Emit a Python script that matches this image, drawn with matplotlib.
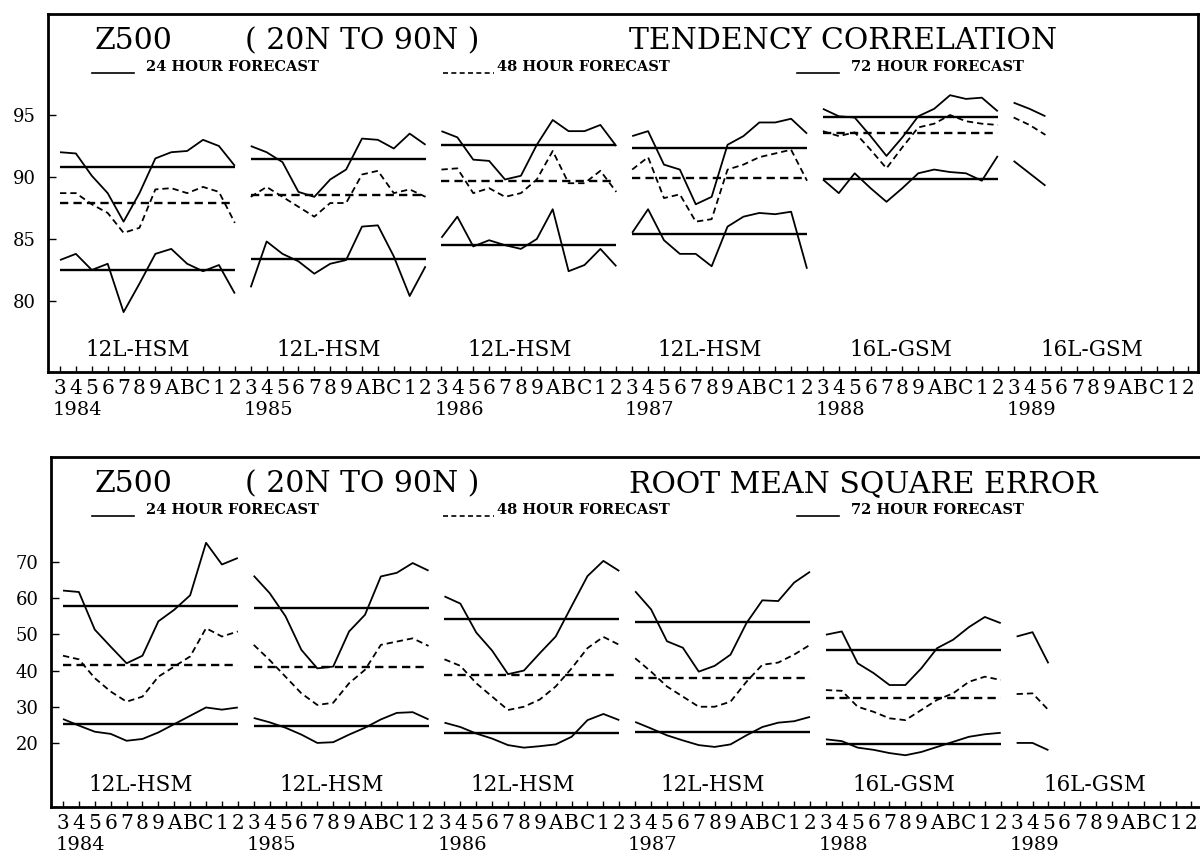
import matplotlib.pyplot as plt
from matplotlib.transforms import offset_copy

plt.rcParams['font.family'] = ['DejaVu Serif', 'DejaVu Sans']

# months from Mar 1984 to Feb 1990, written the old plotter way (A,B,C = Oct,Nov,Dec)
month_nums = list(range(3, 13)) + list(range(1, 13)) * 5 + [1, 2]
month_chars = '123456789ABC'
month_labels = [month_chars[m - 1] for m in month_nums]
years = ['1984', '1985', '1986', '1987', '1988', '1989']
models = ['12L-HSM', '12L-HSM', '12L-HSM', '12L-HSM', '16L-GSM', '16L-GSM']
leads = ['24 HOUR FORECAST', '48 HOUR FORECAST', '72 HOUR FORECAST']

# tendency correlation, Mar 1984 .. May 1989 (12 months per model year)
tc24 = [92.0, 91.9, 90.1, 88.7, 86.4, 88.7, 91.5, 92.0, 92.1, 93.0, 92.5, 90.9,
        92.5, 92.0, 91.2, 88.8, 88.4, 89.8, 90.6, 93.1, 93.0, 92.3, 93.5, 92.6,
        93.7, 93.2, 91.4, 91.3, 89.8, 90.1, 92.6, 94.6, 93.7, 93.7, 94.2, 92.5,
        93.3, 93.7, 91.0, 90.6, 87.8, 88.4, 92.6, 93.3, 94.4, 94.4, 94.7, 93.5,
        95.5, 94.9, 94.8, 93.3, 91.7, 93.2, 94.9, 95.5, 96.6, 96.3, 96.4, 95.3,
        96.0, 95.5, 94.9]
tc48 = [88.7, 88.7, 87.8, 87.1, 85.5, 85.9, 89.0, 89.1, 88.7, 89.2, 88.8, 86.3,
        88.4, 89.2, 88.4, 87.6, 86.8, 87.9, 87.9, 90.2, 90.5, 88.7, 89.0, 88.4,
        90.6, 90.7, 88.7, 89.1, 88.4, 88.7, 89.8, 92.1, 89.5, 89.5, 90.5, 88.8,
        90.6, 91.6, 88.3, 88.6, 86.4, 86.6, 90.6, 91.0, 91.6, 91.9, 92.2, 89.7,
        93.7, 93.3, 93.6, 92.2, 90.7, 92.4, 94.0, 94.3, 95.0, 94.5, 94.3, 94.2,
        94.8, 94.2, 93.4]
tc72 = [83.3, 83.8, 82.5, 83.0, 79.1, 81.4, 83.8, 84.2, 83.0, 82.4, 82.9, 80.6,
        81.1, 84.8, 83.8, 83.2, 82.2, 83.0, 83.3, 86.0, 86.1, 83.6, 80.4, 82.8,
        85.1, 86.8, 84.4, 84.9, 84.5, 84.2, 85.0, 87.4, 82.4, 82.9, 84.2, 82.8,
        85.5, 87.4, 84.9, 83.8, 83.8, 82.8, 86.0, 86.8, 87.1, 87.0, 87.2, 82.6,
        89.8, 88.7, 90.3, 89.1, 88.0, 89.1, 90.3, 90.6, 90.4, 90.3, 89.7, 91.7,
        91.3, 90.3, 89.3]

# root mean square error
rm24 = [26.6, 24.8, 23.1, 22.5, 20.6, 21.1, 22.9, 25.2, 27.5, 29.8, 29.2, 29.8,
        26.9, 25.7, 24.2, 22.3, 20.0, 20.2, 22.3, 24.2, 26.5, 28.3, 28.5, 26.5,
        25.6, 24.4, 22.6, 21.2, 19.4, 18.7, 19.1, 19.6, 21.7, 26.3, 28.0, 26.3,
        25.8, 24.0, 22.1, 20.7, 19.4, 18.9, 19.6, 22.1, 24.4, 25.6, 26.0, 27.2,
        21.0, 20.5, 18.7, 18.1, 17.2, 16.6, 17.5, 18.9, 20.3, 21.7, 22.4, 22.8,
        20.0, 20.0, 18.0]
rm48 = [44.1, 43.1, 37.9, 34.2, 31.4, 32.8, 38.3, 41.1, 43.9, 51.7, 49.4, 50.8,
        47.1, 42.9, 38.3, 33.7, 30.5, 31.1, 36.5, 40.2, 47.1, 48.0, 48.9, 46.8,
        43.1, 41.3, 36.5, 32.8, 29.1, 30.0, 32.0, 35.6, 40.6, 46.2, 49.3, 47.1,
        43.4, 39.7, 35.6, 32.8, 30.0, 30.0, 31.4, 36.9, 41.6, 42.2, 44.4, 47.1,
        34.6, 34.4, 30.0, 28.6, 26.8, 26.3, 29.1, 31.9, 33.7, 36.9, 38.3, 37.4,
        33.5, 33.7, 29.1]
rm72 = [62.1, 61.7, 51.3, 46.6, 42.0, 44.1, 53.6, 56.8, 60.8, 75.3, 69.3, 71.1,
        66.2, 61.4, 55.0, 45.7, 40.6, 41.1, 50.8, 55.4, 66.0, 67.0, 69.7, 67.6,
        60.5, 58.5, 50.5, 45.5, 39.0, 40.0, 44.8, 49.4, 57.8, 66.1, 70.3, 67.5,
        61.9, 56.9, 48.1, 46.3, 39.7, 41.3, 44.4, 53.1, 59.4, 59.2, 64.3, 67.3,
        49.9, 50.8, 42.0, 39.3, 36.0, 36.0, 40.6, 46.2, 48.5, 52.0, 54.8, 53.1,
        49.4, 50.6, 42.0]

W, H = 1200, 857
fig = plt.figure(figsize=(12, 8.57), dpi=100)


def fx(px):
    return px / W


def fy(py):
    return 1 - py / H


def panel(rect, top, series, title, yticks, ylim):
    ax = fig.add_axes(rect)
    for s, ls in zip(series, ['-', '--', '-']):
        for k in range(0, len(s), 12):
            seg = s[k:k + 12]
            xs = list(range(k, k + len(seg)))
            kw = dict(color='black', lw=1.3, solid_capstyle='butt')
            if ls == '--':
                kw['dashes'] = (3.5, 2.2)
            ax.plot(xs, seg, **kw)
            # yearly mean for the full model years
            if len(seg) == 12:
                m = sum(seg) / 12
                ax.plot([xs[0], xs[-1]], [m, m], **dict(kw, lw=1.7))

    ax.set_xlim(-0.755, 71.6)
    ax.set_ylim(*ylim)
    ax.set_xticks(range(len(month_labels)))
    ax.set_xticklabels(month_labels, fontsize=14.5)
    ax.set_yticks(yticks)
    ax.set_yticklabels([str(v) for v in yticks], fontsize=13)
    ax.tick_params(axis='x', direction='in', length=4, width=1, pad=5)
    ax.tick_params(axis='y', direction='in', length=6, width=1, pad=9)
    for sp in ax.spines.values():
        sp.set_linewidth(2)

    tr_up = offset_copy(ax.get_xaxis_transform(), fig=fig, y=22, units='dots')
    tr_dn = offset_copy(ax.get_xaxis_transform(), fig=fig, y=-38, units='dots')
    for k, (yr, mdl) in enumerate(zip(years, models)):
        ax.text(12 * k + 4.9, 0, mdl, transform=tr_up, ha='center',
                va='center', fontsize=15.5)
        ax.text(12 * k - 0.45, 0, yr, transform=tr_dn, ha='left',
                va='center', fontsize=14)

    # header inside the frame
    fig.text(fx(95), fy(top + 41), 'Z500', fontsize=21.5, va='center')
    fig.text(fx(245), fy(top + 41), '( 20N TO 90N )', fontsize=21.5, va='center')
    fig.text(fx(629), fy(top + 41), title, fontsize=21.5, va='center')
    for (x0, x1, xt), lab, dash in zip([(92, 134, 146), (443, 494, 497), (797, 839, 851)],
                                       leads, [False, True, False]):
        ln = plt.Line2D([fx(x0), fx(x1)], [fy(top + 73), fy(top + 73)],
                        transform=fig.transFigure, color='black', lw=1.2)
        if dash:
            ln.set_dashes((3, 2))
        fig.add_artist(ln)
        fig.text(fx(xt), fy(top + 67), lab, fontsize=10.5, fontweight='bold',
                 va='center')
    return ax


panel([fx(48), fy(372), fx(1198 - 48), (372 - 14) / H], 0,
      [tc24, tc48, tc72], 'TENDENCY CORRELATION', [80, 85, 90, 95], (74.27, 103.15))
panel([fx(51), fy(807), fx(1201 - 51), (807 - 457) / H], 443,
      [rm24, rm48, rm72], 'ROOT MEAN SQUARE ERROR', [20, 30, 40, 50, 60, 70], (2.3, 99.0))

fig.savefig('out.png', dpi=100)
